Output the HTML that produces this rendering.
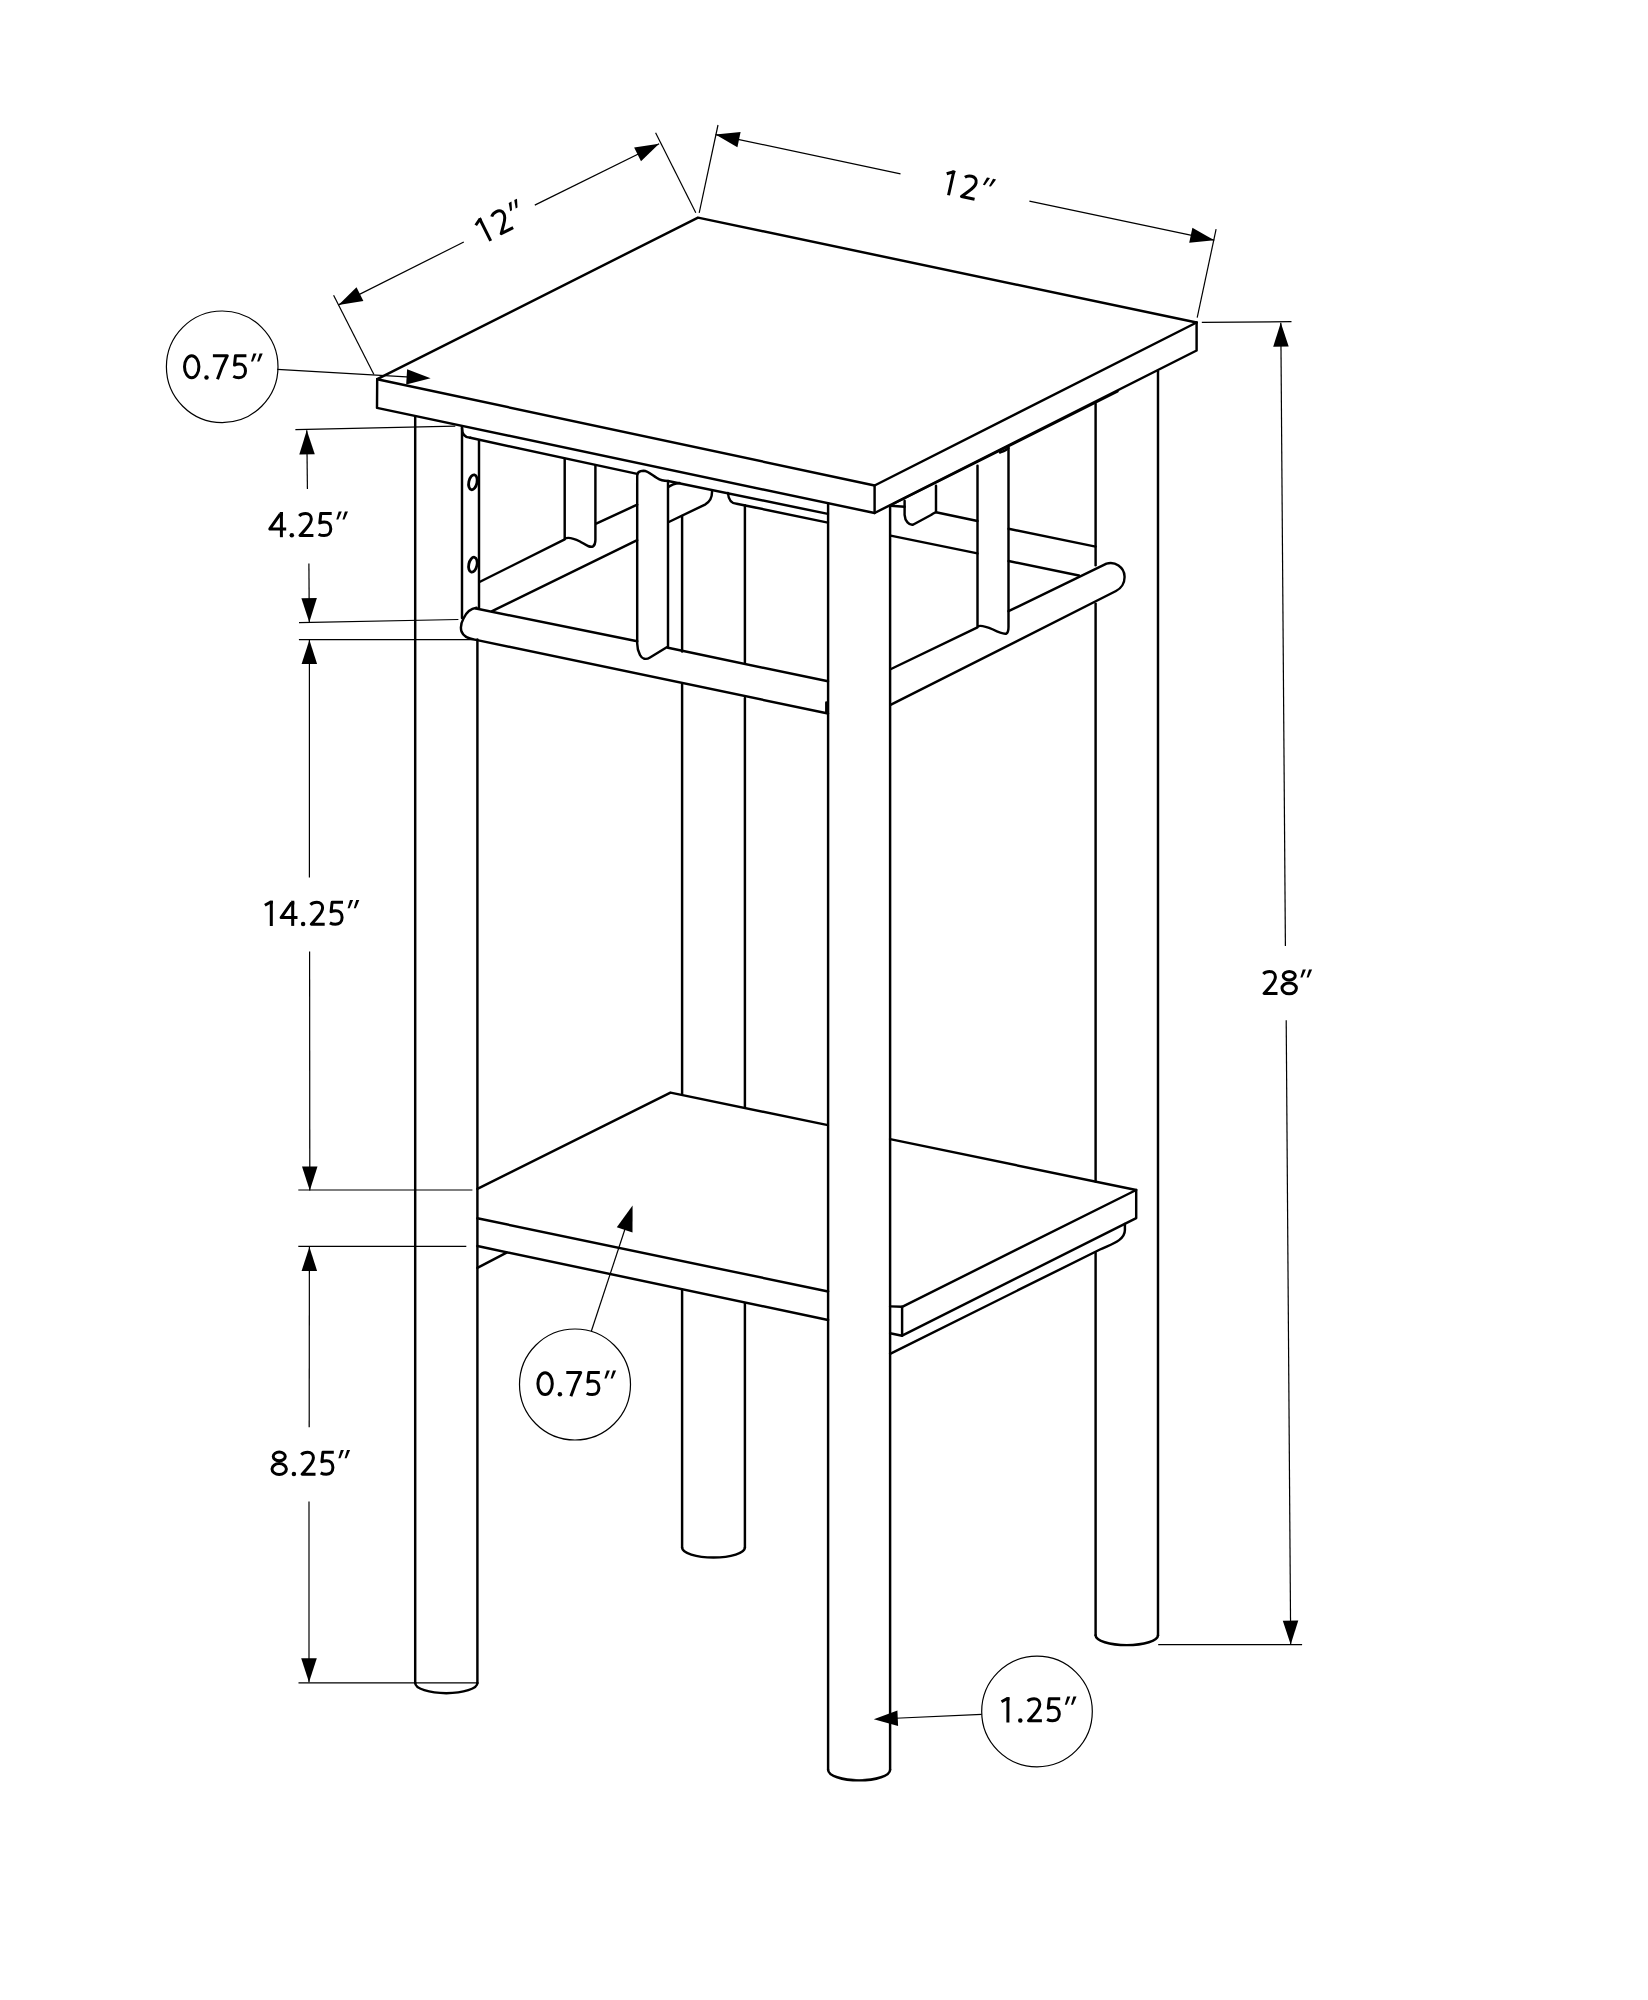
<!DOCTYPE html>
<html><head><meta charset="utf-8"><style>
html,body{margin:0;padding:0;background:#fff;width:1648px;height:2000px;overflow:hidden}
svg{display:block}
</style></head><body>
<svg width="1648" height="2000" viewBox="0 0 1648 2000">
<rect width="1648" height="2000" fill="#fff"/>
<g fill="none" stroke="#000" stroke-width="2.45" stroke-linejoin="round" stroke-linecap="round">
<path d="M377.2 379.2 L698 217.6 L1196.6 322.5"/>
<path d="M377.2 379.2 L874.6 485.5 L1196.6 322.5"/>
<path d="M377.2 379.2 L377 407.9 L874.6 513 L1196.6 350.5 L1196.6 322.5"/>
<path d="M874.6 485.5 L874.6 513"/>
<path d="M894 503.5 L1117.5 391.5"/>
<path d="M462 426.3 L462 618"/>
<path d="M479 440.5 L479 607.5"/>
<path d="M462 428 C462 434 465 437.6 470.3 437.8"/>
<path d="M470.3 437.8 L637.2 473.9"/>
<path d="M668 481 L827.9 513.9"/>
<path d="M668.4 487 C671 485 675 483.5 679.5 483"/>
<path d="M727.9 493 C728.5 499 731 503.7 736.6 503.7 L827.9 522.6"/>
<path d="M668.8 522 L705 504.6 C709 502.5 712.4 498 712 490.8"/>
<ellipse cx="472.9" cy="482.3" rx="4.1" ry="7.6" stroke-width="2.8" transform="rotate(12 472.9 482.3)"/>
<ellipse cx="472.9" cy="564.7" rx="4.1" ry="7.6" stroke-width="2.8" transform="rotate(12 472.9 564.7)"/>
<path d="M564.7 458.9 L564.7 538.6 C568 537 573 538 580 541.5 C586 545 590 548 593 546.5 C595 545 595.4 543 595.4 540 L595.4 465.2"/>
<path d="M479.5 582 L564.7 539.4"/>
<path d="M596.2 523.6 L637.2 504.7"/>
<path d="M492.1 611.2 L637.2 540.2"/>
<path d="M637.2 643.5 L637.2 476 C637.2 472 640 470.8 643.5 470.8 C648 471 652 475 657 478 C660 480 664 481 668 481 L668 646.5 L650 657.5 C646 660 642 659 640 655 C638 651 637.2 647 637.2 643.5"/>
<path d="M476.5 607.8 C471 608.5 466 613 463.5 618.5 C461 623 460.3 627.5 461.5 631.5 C463 635.5 467 638.5 474.8 639.6 L828 713.5"/>
<path d="M476 608.5 L637.2 641.2"/>
<path d="M668 647.8 L828 681.3"/>
<path d="M826.3 702.5 L826.3 712.5"/>
<path d="M904.6 500.8 L904.6 514.8 C905 521 909 525.5 913.4 524.5 L931 515 C933 513.5 936 512.2 936 512.2 L936 485.8"/>
<path d="M890.6 505.8 L904.6 506.8"/>
<path d="M936 512.2 L977.5 521"/>
<path d="M890.6 535.6 L977.5 553.4"/>
<path d="M1008.6 528.8 L1095.6 546.6"/>
<path d="M1008.6 561 L1078.9 575.5"/>
<path d="M977.5 465.6 L977.5 626.5 C980 625 985 626 993 629.5 C1000 633 1004 634.5 1006.5 633.5 C1008 632.5 1008.5 630 1008.5 627 L1008.5 448"/>
<path d="M1000 452.5 C1004 451 1007 450 1008.5 448"/>
<path d="M891 704.7 L1116 591 C1121 588.5 1125 583 1124.5 576 C1124 567 1115 561 1106.5 563.6 L1008.5 611.2"/>
<path d="M891 669 L977.5 627.4"/>
<path d="M415.2 416.5 L415.2 1683"/>
<path d="M477.4 639.4 L477.4 1683"/>
<path d="M415.2 1683 A31.1 10.2 0 0 0 477.4 1683"/>
<path d="M682.1 516 L682.1 651.5"/>
<path d="M682.1 684.6 L682.1 1093.9"/>
<path d="M682.1 1289.6 L682.1 1547.6"/>
<path d="M744.9 505.1 L744.9 662.6"/>
<path d="M744.9 698 L744.9 1107"/>
<path d="M744.9 1303.6 L744.9 1547.6"/>
<path d="M682.1 1547.6 A31.4 10 0 0 0 744.9 1547.6"/>
<path d="M828.1 503.2 L828.1 1769.7"/>
<path d="M890.1 506 L890.1 1769.7"/>
<path d="M828.1 1769.7 A31 10.7 0 0 0 890.1 1769.7"/>
<path d="M1095.6 403.8 L1095.6 565.3"/>
<path d="M1095.6 603.6 L1095.6 1181.4"/>
<path d="M1095.6 1252.8 L1095.6 1635.3"/>
<path d="M1158 371.2 L1158 1635.3"/>
<path d="M1095.6 1635.3 A31.2 9.8 0 0 0 1158 1635.3"/>
<path d="M477.4 1188.9 L670.5 1092.6 L827.9 1125.1"/>
<path d="M890.1 1139.1 L1136.2 1190 L902.1 1306.8 L890.1 1306.4"/>
<path d="M1136.2 1190 L1136.2 1218.1 L902.1 1335.7 L902.1 1306.8"/>
<path d="M890.1 1333.2 L902.1 1335.7"/>
<path d="M477.4 1218.3 L828.1 1291.5"/>
<path d="M477.4 1246 L828.1 1320"/>
<path d="M477.4 1267.9 L506.6 1252.6"/>
<path d="M890.1 1353.8 L1100 1249.5 C1110 1244.5 1124.9 1241 1124.9 1230.1 L1124.9 1224"/>
</g>
<g fill="none" stroke="#000" stroke-width="1.2">
<path d="M373.9 374.6 L333.6 295.2"/>
<path d="M695.8 212.8 L655.6 132.8"/>
<path d="M338.5 304.9 L463.8 242"/>
<path d="M534.8 205.1 L659.1 143.7"/>
<path d="M699.2 212.8 L718 125"/>
<path d="M1197.2 317.7 L1216.1 229.2"/>
<path d="M715.5 134.6 L900.5 173.9"/>
<path d="M1029.4 201.2 L1214.3 240.2"/>
<path d="M1201.8 322.3 L1291.5 321.7"/>
<path d="M1158.2 1644.6 L1302.1 1644.6"/>
<path d="M1280.8 322.7 L1285.4 945.9"/>
<path d="M1286.2 1020.2 L1290.7 1644.6"/>
<path d="M295.4 429.7 L455.3 426.2"/>
<path d="M299 622.6 L458.4 619.5"/>
<path d="M306.8 430.3 L307.4 489"/>
<path d="M308.9 563.4 L309.3 622.2"/>
<path d="M298.9 639.6 L475.6 639.6"/>
<path d="M298.3 1190 L472.4 1190"/>
<path d="M309.4 640 L309.4 877.5"/>
<path d="M309.6 951.6 L309.8 1190.4"/>
<path d="M298.3 1246.3 L466.3 1246.3"/>
<path d="M298.5 1682.9 L477.4 1682.9"/>
<path d="M309.4 1247 L309.2 1427.3"/>
<path d="M309 1501.4 L309 1682.2"/>
<circle cx="222.2" cy="366.8" r="55.8"/>
<path d="M277.3 369.4 L415 377.4"/>
<circle cx="575" cy="1384.5" r="55.5"/>
<path d="M591.3 1331.2 L626 1226"/>
<circle cx="1037" cy="1711.5" r="55.3"/>
<path d="M981.7 1714.4 L890 1718.5"/>
</g>
<g fill="#000">
<path d="M338.5 304.9 L356.5 287.2 L363.4 301.1 Z"/>
<path d="M659.1 143.7 L641 161.3 L634.1 147.4 Z"/>
<path d="M715.5 134.6 L740.6 132 L737.4 147.2 Z"/>
<path d="M1214.3 240.2 L1189.2 242.8 L1192.4 227.7 Z"/>
<path d="M1280.8 322.7 L1288.7 346.6 L1273.2 346.8 Z"/>
<path d="M1290.7 1644.6 L1282.8 1620.7 L1298.3 1620.5 Z"/>
<path d="M306.8 430.3 L314.8 454.2 L299.3 454.4 Z"/>
<path d="M309.3 622.2 L301.4 598.3 L316.9 598.1 Z"/>
<path d="M309.4 640 L317.1 664 L301.6 664 Z"/>
<path d="M309.8 1190.4 L302 1166.4 L317.5 1166.4 Z"/>
<path d="M309.4 1247 L317.1 1271 L301.6 1271 Z"/>
<path d="M309 1682.2 L301.2 1658.2 L316.8 1658.2 Z"/>
<path d="M430.6 378.3 L406.2 384.6 L407.1 369.2 Z"/>
<path d="M632.6 1205.6 L632.5 1232.4 L616.8 1227.2 Z"/>
<path d="M873.8 1719.2 L897.4 1710.4 L898.1 1725.9 Z"/>
</g>
<g transform="translate(480 246.2) rotate(-26.7)" fill="none" stroke="#000" stroke-width="3.0" stroke-linejoin="round"><path d="M5.6 -20.6 L11.4 -23.9 M12 -25.2 V0" transform="translate(0.00 0)"/><path d="M10.3 -25.2 H13.6 V-22 Z" transform="translate(0.00 0)" fill="#000" stroke="none"/><path d="M3.2 -21.2 C4.8 -22.9 7 -23.6 9.6 -23.6 C13 -23.6 15.3 -21.4 15.3 -18.1 C15.3 -14.6 13 -11.6 9.6 -8 L4 -1.7 L17.4 -1.7" transform="translate(20.60 0)"/><path d="M3.9 -25.8 L7.0 -25.8 L3.5 -17.7 L1.5 -17.7 Z" transform="translate(41.20 0)" fill="#000" stroke="none"/><path d="M10.1 -25.8 L13.2 -25.8 L9.7 -17.7 L7.7 -17.7 Z" transform="translate(41.20 0)" fill="#000" stroke="none"/></g>
<g transform="translate(936.8 192.7) rotate(12.5)" fill="none" stroke="#000" stroke-width="3.0" stroke-linejoin="round"><path d="M5.6 -20.6 L11.4 -23.9 M12 -25.2 V0" transform="translate(0.00 0)"/><path d="M10.3 -25.2 H13.6 V-22 Z" transform="translate(0.00 0)" fill="#000" stroke="none"/><path d="M3.2 -21.2 C4.8 -22.9 7 -23.6 9.6 -23.6 C13 -23.6 15.3 -21.4 15.3 -18.1 C15.3 -14.6 13 -11.6 9.6 -8 L4 -1.7 L17.4 -1.7" transform="translate(20.90 0)"/><path d="M3.9 -25.8 L7.0 -25.8 L3.5 -17.7 L1.5 -17.7 Z" transform="translate(41.80 0)" fill="#000" stroke="none"/><path d="M10.1 -25.8 L13.2 -25.8 L9.7 -17.7 L7.7 -17.7 Z" transform="translate(41.80 0)" fill="#000" stroke="none"/></g>
<g transform="translate(1260.1 995.2)" fill="none" stroke="#000" stroke-width="3.0" stroke-linejoin="round"><path d="M3.2 -21.2 C4.8 -22.9 7 -23.6 9.6 -23.6 C13 -23.6 15.3 -21.4 15.3 -18.1 C15.3 -14.6 13 -11.6 9.6 -8 L4 -1.7 L17.4 -1.7" transform="translate(0.00 0)"/><ellipse cx="29.15" cy="-19.50" rx="6.00" ry="4.30"/><ellipse cx="29.10" cy="-6.85" rx="7.20" ry="5.45"/><path d="M3.9 -25.8 L7.0 -25.8 L3.5 -17.7 L1.5 -17.7 Z" transform="translate(38.80 0)" fill="#000" stroke="none"/><path d="M10.1 -25.8 L13.2 -25.8 L9.7 -17.7 L7.7 -17.7 Z" transform="translate(38.80 0)" fill="#000" stroke="none"/></g>
<g transform="translate(267.4 537.2)" fill="none" stroke="#000" stroke-width="3.0" stroke-linejoin="round"><path d="M14 0 V-24" transform="translate(0.00 0)"/><path d="M13 -23.4 L2.4 -8.3 H18.8" transform="translate(0.00 0)"/><path d="M12.1 -25.2 H15.6 V-21.5 L14 -21.5 Z" transform="translate(0.00 0)" fill="#000" stroke="none"/><circle cx="24.40" cy="-1.90" r="2.25" fill="#000" stroke="none"/><path d="M3.2 -21.2 C4.8 -22.9 7 -23.6 9.6 -23.6 C13 -23.6 15.3 -21.4 15.3 -18.1 C15.3 -14.6 13 -11.6 9.6 -8 L4 -1.7 L17.4 -1.7" transform="translate(28.60 0)"/><path d="M16.3 -23.6 H5.4 L4.4 -14.2 C5.6 -14.8 7.3 -15.2 9 -15.2 C12.9 -15.2 15.4 -12.6 15.4 -8.3 C15.4 -4 12.5 -1.6 8.8 -1.6 C6.6 -1.6 4.6 -2.2 3.2 -3" transform="translate(48.00 0)"/><path d="M3.9 -25.8 L7.0 -25.8 L3.5 -17.7 L1.5 -17.7 Z" transform="translate(67.40 0)" fill="#000" stroke="none"/><path d="M10.1 -25.8 L13.2 -25.8 L9.7 -17.7 L7.7 -17.7 Z" transform="translate(67.40 0)" fill="#000" stroke="none"/></g>
<g transform="translate(259.3 925.9)" fill="none" stroke="#000" stroke-width="3.0" stroke-linejoin="round"><path d="M5.6 -20.6 L11.4 -23.9 M12 -25.2 V0" transform="translate(0.00 0)"/><path d="M10.3 -25.2 H13.6 V-22 Z" transform="translate(0.00 0)" fill="#000" stroke="none"/><path d="M14 0 V-24" transform="translate(19.40 0)"/><path d="M13 -23.4 L2.4 -8.3 H18.8" transform="translate(19.40 0)"/><path d="M12.1 -25.2 H15.6 V-21.5 L14 -21.5 Z" transform="translate(19.40 0)" fill="#000" stroke="none"/><circle cx="43.80" cy="-1.90" r="2.25" fill="#000" stroke="none"/><path d="M3.2 -21.2 C4.8 -22.9 7 -23.6 9.6 -23.6 C13 -23.6 15.3 -21.4 15.3 -18.1 C15.3 -14.6 13 -11.6 9.6 -8 L4 -1.7 L17.4 -1.7" transform="translate(48.00 0)"/><path d="M16.3 -23.6 H5.4 L4.4 -14.2 C5.6 -14.8 7.3 -15.2 9 -15.2 C12.9 -15.2 15.4 -12.6 15.4 -8.3 C15.4 -4 12.5 -1.6 8.8 -1.6 C6.6 -1.6 4.6 -2.2 3.2 -3" transform="translate(67.40 0)"/><path d="M3.9 -25.8 L7.0 -25.8 L3.5 -17.7 L1.5 -17.7 Z" transform="translate(86.80 0)" fill="#000" stroke="none"/><path d="M10.1 -25.8 L13.2 -25.8 L9.7 -17.7 L7.7 -17.7 Z" transform="translate(86.80 0)" fill="#000" stroke="none"/></g>
<g transform="translate(269.5 1475.9)" fill="none" stroke="#000" stroke-width="3.0" stroke-linejoin="round"><ellipse cx="9.75" cy="-19.50" rx="6.00" ry="4.30"/><ellipse cx="9.70" cy="-6.85" rx="7.20" ry="5.45"/><circle cx="24.40" cy="-1.90" r="2.25" fill="#000" stroke="none"/><path d="M3.2 -21.2 C4.8 -22.9 7 -23.6 9.6 -23.6 C13 -23.6 15.3 -21.4 15.3 -18.1 C15.3 -14.6 13 -11.6 9.6 -8 L4 -1.7 L17.4 -1.7" transform="translate(28.60 0)"/><path d="M16.3 -23.6 H5.4 L4.4 -14.2 C5.6 -14.8 7.3 -15.2 9 -15.2 C12.9 -15.2 15.4 -12.6 15.4 -8.3 C15.4 -4 12.5 -1.6 8.8 -1.6 C6.6 -1.6 4.6 -2.2 3.2 -3" transform="translate(48.00 0)"/><path d="M3.9 -25.8 L7.0 -25.8 L3.5 -17.7 L1.5 -17.7 Z" transform="translate(67.40 0)" fill="#000" stroke="none"/><path d="M10.1 -25.8 L13.2 -25.8 L9.7 -17.7 L7.7 -17.7 Z" transform="translate(67.40 0)" fill="#000" stroke="none"/></g>
<g transform="translate(182.1 379.3)" fill="none" stroke="#000" stroke-width="3.0" stroke-linejoin="round"><ellipse cx="9.60" cy="-12.55" rx="7.20" ry="10.90"/><circle cx="24.40" cy="-1.90" r="2.25" fill="#000" stroke="none"/><path d="M2.2 -23.6 H16.6 C12.6 -16 9.4 -8 6.8 0" transform="translate(28.60 0)"/><path d="M16.3 -23.6 H5.4 L4.4 -14.2 C5.6 -14.8 7.3 -15.2 9 -15.2 C12.9 -15.2 15.4 -12.6 15.4 -8.3 C15.4 -4 12.5 -1.6 8.8 -1.6 C6.6 -1.6 4.6 -2.2 3.2 -3" transform="translate(48.00 0)"/><path d="M3.9 -25.8 L7.0 -25.8 L3.5 -17.7 L1.5 -17.7 Z" transform="translate(67.40 0)" fill="#000" stroke="none"/><path d="M10.1 -25.8 L13.2 -25.8 L9.7 -17.7 L7.7 -17.7 Z" transform="translate(67.40 0)" fill="#000" stroke="none"/></g>
<g transform="translate(535.5 1396.2)" fill="none" stroke="#000" stroke-width="3.0" stroke-linejoin="round"><ellipse cx="9.60" cy="-12.55" rx="7.20" ry="10.90"/><circle cx="24.40" cy="-1.90" r="2.25" fill="#000" stroke="none"/><path d="M2.2 -23.6 H16.6 C12.6 -16 9.4 -8 6.8 0" transform="translate(28.60 0)"/><path d="M16.3 -23.6 H5.4 L4.4 -14.2 C5.6 -14.8 7.3 -15.2 9 -15.2 C12.9 -15.2 15.4 -12.6 15.4 -8.3 C15.4 -4 12.5 -1.6 8.8 -1.6 C6.6 -1.6 4.6 -2.2 3.2 -3" transform="translate(48.00 0)"/><path d="M3.9 -25.8 L7.0 -25.8 L3.5 -17.7 L1.5 -17.7 Z" transform="translate(67.40 0)" fill="#000" stroke="none"/><path d="M10.1 -25.8 L13.2 -25.8 L9.7 -17.7 L7.7 -17.7 Z" transform="translate(67.40 0)" fill="#000" stroke="none"/></g>
<g transform="translate(995.9 1722.4)" fill="none" stroke="#000" stroke-width="3.0" stroke-linejoin="round"><path d="M5.6 -20.6 L11.4 -23.9 M12 -25.2 V0" transform="translate(0.00 0)"/><path d="M10.3 -25.2 H13.6 V-22 Z" transform="translate(0.00 0)" fill="#000" stroke="none"/><circle cx="24.40" cy="-1.90" r="2.25" fill="#000" stroke="none"/><path d="M3.2 -21.2 C4.8 -22.9 7 -23.6 9.6 -23.6 C13 -23.6 15.3 -21.4 15.3 -18.1 C15.3 -14.6 13 -11.6 9.6 -8 L4 -1.7 L17.4 -1.7" transform="translate(28.60 0)"/><path d="M16.3 -23.6 H5.4 L4.4 -14.2 C5.6 -14.8 7.3 -15.2 9 -15.2 C12.9 -15.2 15.4 -12.6 15.4 -8.3 C15.4 -4 12.5 -1.6 8.8 -1.6 C6.6 -1.6 4.6 -2.2 3.2 -3" transform="translate(48.00 0)"/><path d="M3.9 -25.8 L7.0 -25.8 L3.5 -17.7 L1.5 -17.7 Z" transform="translate(67.40 0)" fill="#000" stroke="none"/><path d="M10.1 -25.8 L13.2 -25.8 L9.7 -17.7 L7.7 -17.7 Z" transform="translate(67.40 0)" fill="#000" stroke="none"/></g>
</svg>
</body></html>
